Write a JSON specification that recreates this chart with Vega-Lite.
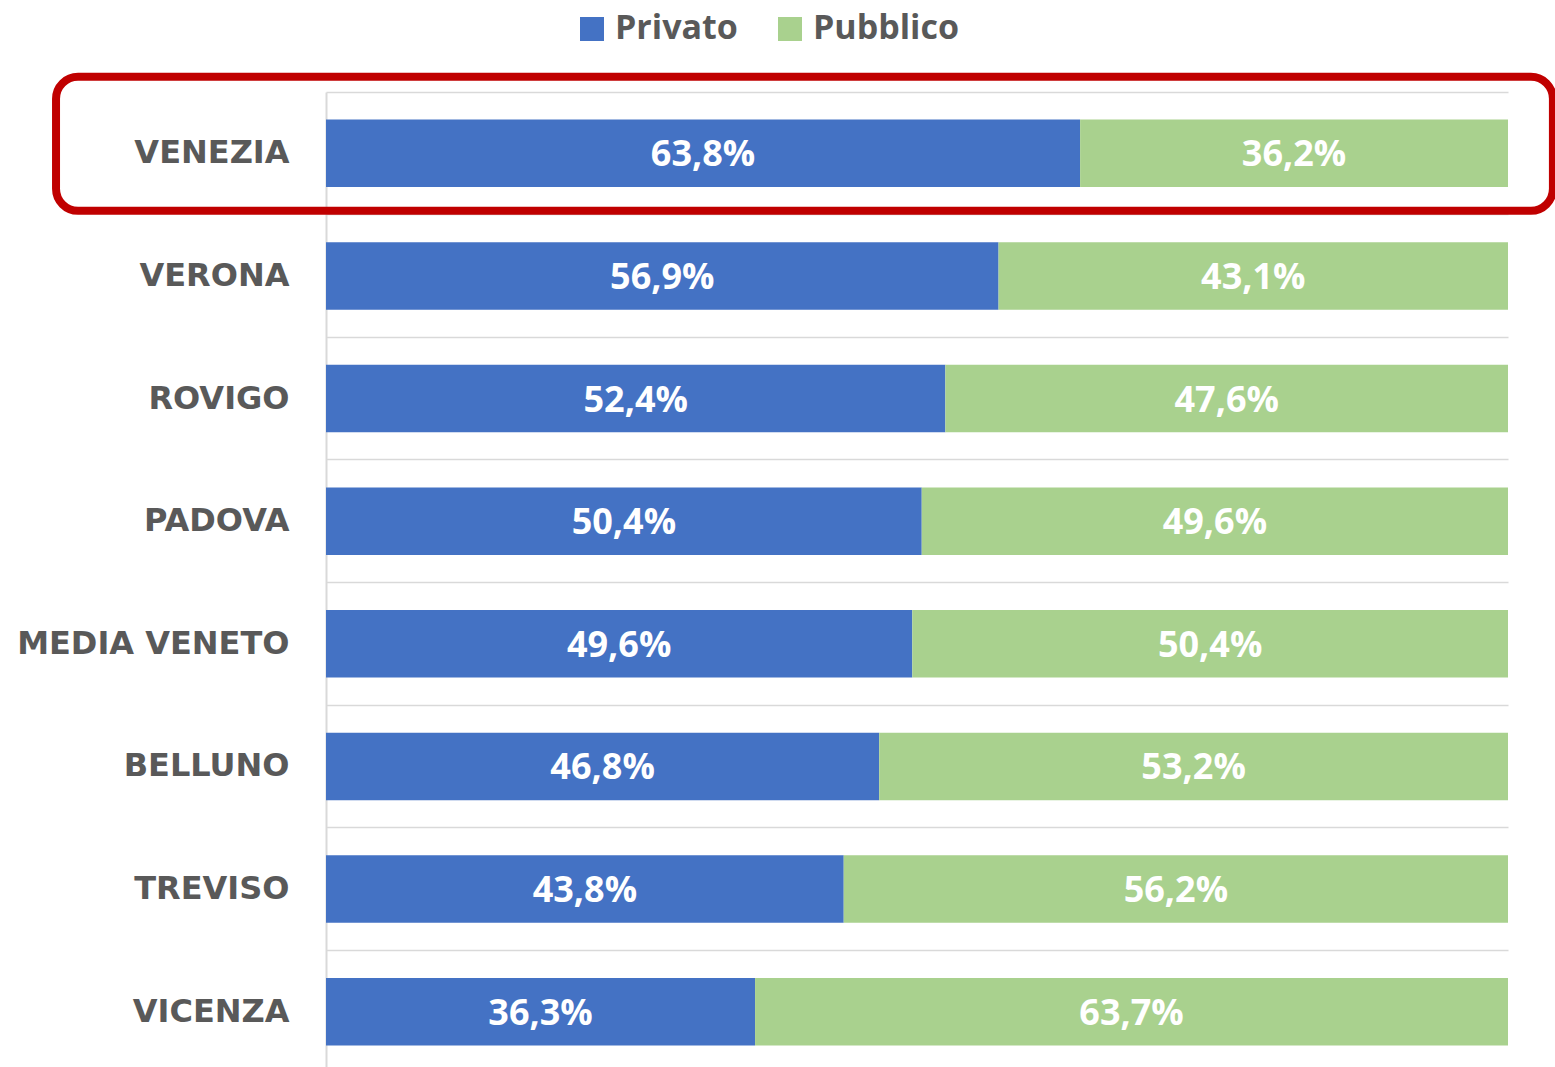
{
  "$schema": "https://vega.github.io/schema/vega-lite/v6.json",
  "width": 1182,
  "height": 981,
  "autosize": {"type": "none"},
  "padding": {"left": 326, "top": 92, "right": 47, "bottom": 0},
  "background": "white",
  "config": {
    "locale": {"number": {"decimal": ",", "thousands": ".", "grouping": [3], "currency": ["€", ""]}},
    "view": {"stroke": null}
  },
  "datasets": {
    "quote": [
      {"provincia": "VENEZIA", "settore": "Privato", "quota": 0.638},
      {"provincia": "VENEZIA", "settore": "Pubblico", "quota": 0.362},
      {"provincia": "VERONA", "settore": "Privato", "quota": 0.569},
      {"provincia": "VERONA", "settore": "Pubblico", "quota": 0.431},
      {"provincia": "ROVIGO", "settore": "Privato", "quota": 0.524},
      {"provincia": "ROVIGO", "settore": "Pubblico", "quota": 0.476},
      {"provincia": "PADOVA", "settore": "Privato", "quota": 0.504},
      {"provincia": "PADOVA", "settore": "Pubblico", "quota": 0.496},
      {"provincia": "MEDIA VENETO", "settore": "Privato", "quota": 0.496},
      {"provincia": "MEDIA VENETO", "settore": "Pubblico", "quota": 0.504},
      {"provincia": "BELLUNO", "settore": "Privato", "quota": 0.468},
      {"provincia": "BELLUNO", "settore": "Pubblico", "quota": 0.532},
      {"provincia": "TREVISO", "settore": "Privato", "quota": 0.438},
      {"provincia": "TREVISO", "settore": "Pubblico", "quota": 0.562},
      {"provincia": "VICENZA", "settore": "Privato", "quota": 0.363},
      {"provincia": "VICENZA", "settore": "Pubblico", "quota": 0.637}
    ],
    "evidenza": [
      {"provincia": "VENEZIA", "da": -0.2284, "a": 1.038}
    ]
  },
  "layer": [
    {
      "data": {"name": "quote"},
      "mark": {"type": "bar"},
      "encoding": {
        "y": {
          "field": "provincia", "type": "nominal", "sort": null,
          "scale": {
            "domain": ["VENEZIA", "VERONA", "ROVIGO", "PADOVA", "MEDIA VENETO", "BELLUNO", "TREVISO", "VICENZA"],
            "paddingInner": 0.45, "paddingOuter": 0.225
          },
          "axis": {
            "title": null, "ticks": false, "labelPadding": 37,
            "labelFont": "DejaVu Sans", "labelFontWeight": "bold", "labelFontSize": 32,
            "labelColor": "#595959", "labelLimit": 400,
            "domainColor": "#D9D9D9", "domainWidth": 2,
            "grid": true, "gridColor": "#D9D9D9", "gridWidth": 1.5, "bandPosition": -0.40909
          }
        },
        "x": {"field": "quota", "type": "quantitative", "stack": "zero", "scale": {"domain": [0, 1]}, "axis": null},
        "order": {"field": "settore", "type": "ordinal", "sort": "ascending"},
        "color": {
          "field": "settore", "type": "nominal",
          "scale": {"domain": ["Privato", "Pubblico"], "range": ["#4472C4", "#A9D18E"]},
          "legend": {
            "orient": "none", "legendX": 249, "legendY": -80, "direction": "horizontal",
            "title": null, "symbolType": "square", "symbolSize": 576, "symbolStrokeWidth": 0,
            "labelFont": "Open Sans", "labelFontWeight": "bold", "labelFontSize": 34,
            "labelColor": "#595959", "labelOffset": 6, "columnPadding": 35
          }
        }
      }
    },
    {
      "data": {"name": "quote"},
      "mark": {"type": "text", "font": "Open Sans", "fontWeight": "bold", "fontSize": 36, "color": "white", "dy": 2},
      "encoding": {
        "y": {"field": "provincia", "type": "nominal", "sort": null},
        "x": {"field": "quota", "type": "quantitative", "stack": "zero", "bandPosition": 0.5},
        "detail": {"field": "settore", "type": "nominal"},
        "order": {"field": "settore", "type": "ordinal", "sort": "ascending"},
        "text": {"field": "quota", "type": "quantitative", "format": ".1%"}
      }
    },
    {
      "data": {"name": "evidenza"},
      "mark": {"type": "bar", "filled": false, "fill": null, "stroke": "#C00000", "strokeWidth": 8, "cornerRadius": 22, "height": 134, "yOffset": -9.5, "clip": false},
      "encoding": {
        "y": {"field": "provincia", "type": "nominal", "sort": null},
        "x": {"field": "da", "type": "quantitative"},
        "x2": {"field": "a"}
      }
    }
  ]
}
